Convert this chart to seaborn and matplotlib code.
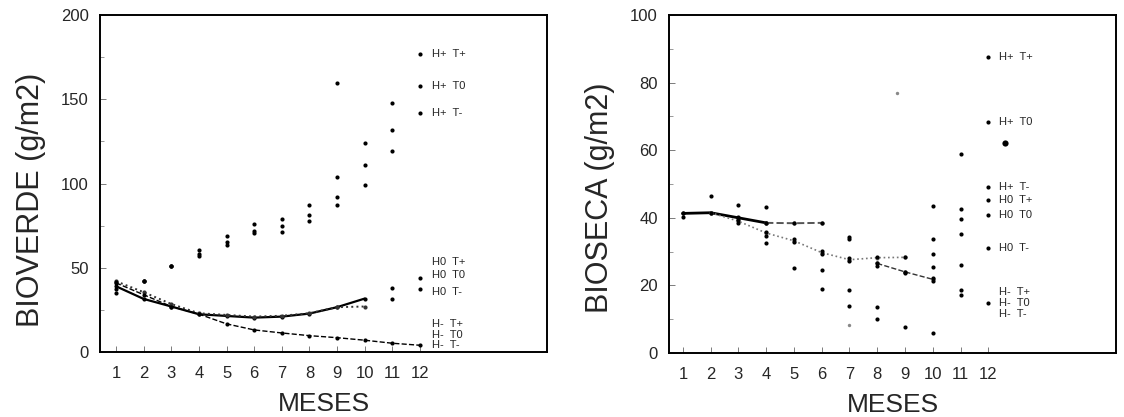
import matplotlib
matplotlib.use("Agg")
import matplotlib.pyplot as plt
import seaborn as sns
import pandas as pd
from matplotlib.ticker import MultipleLocator

# ---------------- data: BIOVERDE (left) ----------------
months = list(range(1, 13))
verde_hp_tp = [41.8, 42.4, 50.8, 60.7, 68.6, 76.0, 79.0, 87.0, 104.0, 124.0, 148.0, 176.7]
verde_hp_t0 = [37.4, 42.4, 50.8, 58.0, 65.0, 72.0, 74.6, 81.5, 92.0, 111.0, 132.0, 157.7]
verde_hp_tm = [35.0, 42.4, 50.8, 57.0, 63.3, 70.4, 71.2, 77.5, 87.0, 99.4, 119.0, 141.6]
verde_extra_x = [9, 11, 11, 12, 12]
verde_extra_y = [159.5, 37.7, 31.5, 44.2, 37.3]
verde_solid_x = list(range(1, 11))
verde_solid_y = [39.0, 31.5, 27.0, 22.4, 21.4, 20.4, 21.0, 22.8, 26.6, 31.7]
verde_dot_x = list(range(1, 11))
verde_dot_y = [42.0, 35.5, 28.5, 23.0, 22.0, 21.0, 21.5, 23.0, 26.6, 27.0]
verde_dash_x = list(range(1, 13))
verde_dash_y = [41.0, 34.0, 27.0, 22.5, 16.7, 13.1, 11.3, 9.7, 8.5, 7.0, 5.2, 4.0]
verde_labels = ["H+  T+", "H+  T0", "H+  T-", "H0  T+", "H0  T0", "H0  T-", "H-  T+", "H-  T0", "H-  T-"]
verde_label_y = [176.7, 157.7, 141.6, 53.5, 45.8, 35.9, 16.6, 10.3, 4.0]

# ---------------- data: BIOSECA (right) ----------------
seca_pts_x = [1, 1, 2, 2,
              3, 3, 3, 3,
              4, 4, 4, 4, 4,
              5, 5, 5, 5,
              6, 6, 6, 6, 6,
              7, 7, 7, 7, 7, 7,
              8, 8, 8, 8, 8,
              9, 9, 9, 9,
              10, 10, 10, 10, 10, 10, 10,
              11, 11, 11, 11, 11, 11, 11,
              12, 12, 12, 12, 12, 12, 12]
seca_pts_y = [41.3, 40.3, 41.5, 46.4,
              43.8, 40.3, 39.3, 38.5,
              43.3, 38.5, 35.7, 34.7, 32.4,
              38.4, 33.7, 32.7, 25.2,
              38.5, 30.2, 29.2, 24.7, 18.8,
              34.4, 33.6, 28.0, 27.3, 18.6, 13.9,
              28.5, 26.5, 25.7, 13.7, 10.1,
              28.3, 24.0, 23.6, 7.6,
              43.5, 33.6, 29.2, 25.4, 22.1, 21.4, 5.8,
              58.8, 42.5, 39.6, 35.1, 26.0, 18.6, 17.2,
              87.7, 68.2, 49.2, 45.3, 40.8, 31.2, 14.7]
seca_faint_x = [7, 8.7]
seca_faint_y = [8.3, 76.8]
seca_blob_x = [12.6]
seca_blob_y = [62.0]
seca_solid_x = [1, 2, 3, 4]
seca_solid_y = [41.3, 41.5, 40.0, 38.5]
seca_dash1_x = [4, 5, 6]
seca_dash1_y = [38.5, 38.4, 38.5]
seca_dot_x = [2, 3, 4, 5, 6, 7, 8, 9]
seca_dot_y = [41.5, 39.0, 35.5, 33.2, 29.7, 27.6, 28.2, 28.3]
seca_dash2_x = [8, 9, 10]
seca_dash2_y = [26.5, 24.0, 21.8]
seca_labels = ["H+  T+", "H+  T0", "H+  T-", "H0  T+", "H0  T0", "H0  T-", "H-  T+", "H-  T0", "H-  T-"]
seca_label_y = [87.7, 68.2, 49.2, 45.3, 40.8, 31.2, 18.1, 14.7, 11.4]

# ---------------- style ----------------
sns.set_style("ticks")
plt.rcParams['font.family'] = ['Liberation Sans', 'DejaVu Sans']

fig = plt.figure(figsize=(11.24, 4.17), dpi=100)
axL = fig.add_axes([100 / 1124, 65 / 417, 447 / 1124, 337 / 417])
axR = fig.add_axes([669 / 1124, 64 / 417, 447 / 1124, 338 / 417])

dot_kw = dict(color="black", s=9, linewidth=0, zorder=3)


def line(ax, x, y, ls, lw=1.1, color="black"):
    df = pd.DataFrame({"x": x, "y": y})
    sns.lineplot(data=df, x="x", y="y", ax=ax, color=color, linestyle=ls,
                 linewidth=lw, marker="o", markersize=3, markeredgewidth=0,
                 sort=False, estimator=None)


# left
for vals in (verde_hp_tp, verde_hp_t0, verde_hp_tm):
    sns.scatterplot(x=months, y=vals, ax=axL, **dot_kw)
sns.scatterplot(x=verde_extra_x, y=verde_extra_y, ax=axL, **dot_kw)
line(axL, verde_solid_x, verde_solid_y, "-", lw=1.6)
line(axL, verde_dot_x, verde_dot_y, ":", lw=1.4, color="#333333")
line(axL, verde_dash_x, verde_dash_y, "--", lw=1.0)
for lab, yv in zip(verde_labels, verde_label_y):
    axL.text(12.45, yv, lab, fontsize=8, va="center", ha="left")
axL.set_xlim(0.42, 16.6)
axL.set_ylim(0, 200)
axL.yaxis.set_major_locator(MultipleLocator(50))
axL.yaxis.set_minor_locator(MultipleLocator(25))
axL.set_ylabel("BIOVERDE (g/m2)", fontsize=22)
axL.yaxis.set_label_coords(-0.12, 0.45)

# right
sns.scatterplot(x=seca_pts_x, y=seca_pts_y, ax=axR, **dot_kw)
sns.scatterplot(x=seca_faint_x, y=seca_faint_y, ax=axR, color="#888888", s=6, linewidth=0)
sns.scatterplot(x=seca_blob_x, y=seca_blob_y, ax=axR, color="black", s=20, linewidth=0)
line(axR, seca_solid_x, seca_solid_y, "-", lw=2.0)
line(axR, seca_dash1_x, seca_dash1_y, "--", lw=1.4, color="#555555")
line(axR, seca_dot_x, seca_dot_y, ":", lw=1.2, color="#777777")
line(axR, seca_dash2_x, seca_dash2_y, "--", lw=1.0, color="#333333")
for lab, yv in zip(seca_labels, seca_label_y):
    axR.text(12.4, yv, lab, fontsize=8, va="center", ha="left")
axR.set_xlim(0.5, 16.6)
axR.set_ylim(0, 100)
axR.yaxis.set_major_locator(MultipleLocator(20))
axR.yaxis.set_minor_locator(MultipleLocator(10))
axR.set_ylabel("BIOSECA (g/m2)", fontsize=22)
axR.yaxis.set_label_coords(-0.12, 0.46)

for ax in (axL, axR):
    ax.set_xticks(months)
    ax.set_xticklabels([str(m) for m in months])
    ax.set_xlabel("MESES", fontsize=19, labelpad=8)
    ax.tick_params(axis="both", which="major", direction="in", length=4,
                   labelsize=12, pad=8, width=0.6, color="#666666")
    ax.tick_params(axis="x", which="major", pad=10)
    ax.tick_params(axis="y", which="minor", direction="in", length=3,
                   width=0.6, color="#888888")
    for side in ("left", "right", "top", "bottom"):
        ax.spines[side].set_visible(True)
        ax.spines[side].set_linewidth(1.4)
        ax.spines[side].set_color("black")

fig.savefig("out.png", dpi=100)
